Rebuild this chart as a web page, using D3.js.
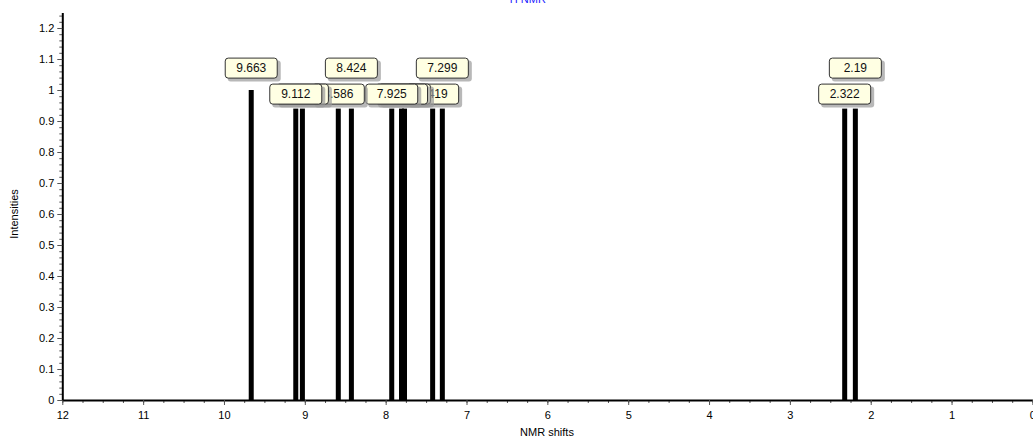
<!DOCTYPE html>
<html>
<head>
<meta charset="utf-8">
<script src="https://cdn.jsdelivr.net/npm/d3@7"></script>
<style>
  body { margin: 0; background: #fff; }
  svg { display: block; font-family: Arial, "Liberation Sans", sans-serif; }
  .axis path { stroke: #000; stroke-width: 2; }
  .axis line { stroke: #555; }
  .axis text { font-size: 11px; fill: #000; }
  .label rect.box { fill: #ffffe3; stroke: #333; stroke-width: 1; }
  .label rect.shadow { fill: #9a9a9a; }
  .label text { font-size: 12px; fill: #111; }
</style>
</head>
<body>
<svg id="chart"></svg>
<script>
// peak shifts (ppm), intensities and label texts
const shifts = [9.663, 9.112, 9.03, 8.586, 8.424, 7.925, 7.804, 7.767, 7.419, 7.299, 2.322, 2.19];
const intensities = [1, 0.94, 0.94, 0.94, 0.94, 0.94, 0.94, 0.94, 0.94, 0.94, 0.94, 0.94];
const labels = ['9.663', '9.112', '9.03', '8.586', '8.424', '7.925', '7.804', '7.767', '7.419', '7.299', '2.322', '2.19'];
const labelTier = [1, 0, 0, 0, 1, 0, 0, 0, 0, 1, 0, 1];

const xTicks = d3.range(0, 13);
const yTicks = [0, 0.1, 0.2, 0.3, 0.4, 0.5, 0.6, 0.7, 0.8, 0.9, 1, 1.1, 1.2];

const width = 1033;
const height = 439;
const margin = {top: 12.5, right: 0.6, bottom: 39, left: 62.3};

const svg = d3.select('#chart')
  .attr('width', width)
  .attr('height', height);

const x = d3.scaleLinear()
  .domain([12, 0])
  .range([margin.left, width - margin.right]);

const y = d3.scaleLinear()
  .domain([0, 1.25])
  .range([height - margin.bottom, margin.top]);

// blue title, mostly cut off by the top edge
svg.append('text')
  .attr('x', 526)
  .attr('y', 3)
  .attr('text-anchor', 'middle')
  .attr('fill', '#2222ff')
  .style('font-size', '11px')
  .text('¹H NMR');

// minor ticks
svg.append('g')
  .attr('class', 'axis')
  .attr('transform', `translate(0, ${y(0)})`)
  .call(d3.axisBottom(x).tickValues(d3.range(0, 12.01, 0.25)).tickSize(3).tickSizeOuter(0).tickFormat(''))
  .call(g => g.select('.domain').remove());

svg.append('g')
  .attr('class', 'axis')
  .attr('transform', `translate(${x(12)}, 0)`)
  .call(d3.axisLeft(y).tickValues(d3.range(0, 1.241, 0.02)).tickSize(3).tickSizeOuter(0).tickFormat(''))
  .call(g => g.select('.domain').remove());

// major axes
svg.append('g')
  .attr('class', 'axis')
  .attr('transform', `translate(0, ${y(0)})`)
  .call(d3.axisBottom(x).tickValues(xTicks).tickSize(5).tickSizeOuter(0).tickPadding(6).tickFormat(d3.format('d')));

svg.append('g')
  .attr('class', 'axis')
  .attr('transform', `translate(${x(12)}, 0)`)
  .call(d3.axisLeft(y).tickValues(yTicks).tickSize(5).tickSizeOuter(0).tickPadding(3).tickFormat(d => d3.format('~g')(d)));

// axis titles
svg.append('text')
  .attr('x', 547)
  .attr('y', 436)
  .attr('text-anchor', 'middle')
  .style('font-size', '11px')
  .text('NMR shifts');

svg.append('text')
  .attr('transform', `translate(18, ${y(0.6)}) rotate(-90)`)
  .attr('text-anchor', 'middle')
  .style('font-size', '11px')
  .text('Intensities');

const peaks = shifts.map((s, i) => ({
  shift: s,
  intensity: intensities[i],
  label: labels[i],
  tier: labelTier[i]
}));

// bars
const barWidth = 5;
svg.append('g')
  .selectAll('rect')
  .data(peaks)
  .join('rect')
  .attr('x', d => x(d.shift) - barWidth / 2)
  .attr('y', d => y(d.intensity))
  .attr('width', barWidth)
  .attr('height', d => y(0) - y(d.intensity))
  .attr('fill', '#000');

// labels, drawn from low to high shift so left ones sit on top
const boxW = 53;
const boxH = 21;
const baseTop = y(0.94) - boxH - 4;
const tierStep = 26;

const lbl = svg.append('g')
  .selectAll('g')
  .data(peaks.slice().sort((a, b) => a.shift - b.shift))
  .join('g')
  .attr('class', 'label')
  .attr('transform', d => `translate(${x(d.shift) - boxW / 2}, ${baseTop - d.tier * tierStep})`);

lbl.append('rect')
  .attr('class', 'shadow')
  .attr('x', 3)
  .attr('y', 3)
  .attr('width', boxW)
  .attr('height', boxH)
  .attr('rx', 3)
  .attr('opacity', 0.7);

lbl.append('rect')
  .attr('class', 'box')
  .attr('x', 0.5)
  .attr('y', 0.5)
  .attr('width', boxW - 1)
  .attr('height', boxH - 1)
  .attr('rx', 3);

lbl.append('text')
  .attr('x', boxW / 2)
  .attr('y', boxH / 2 + 4)
  .attr('text-anchor', 'middle')
  .text(d => d.label);
</script>
</body>
</html>
